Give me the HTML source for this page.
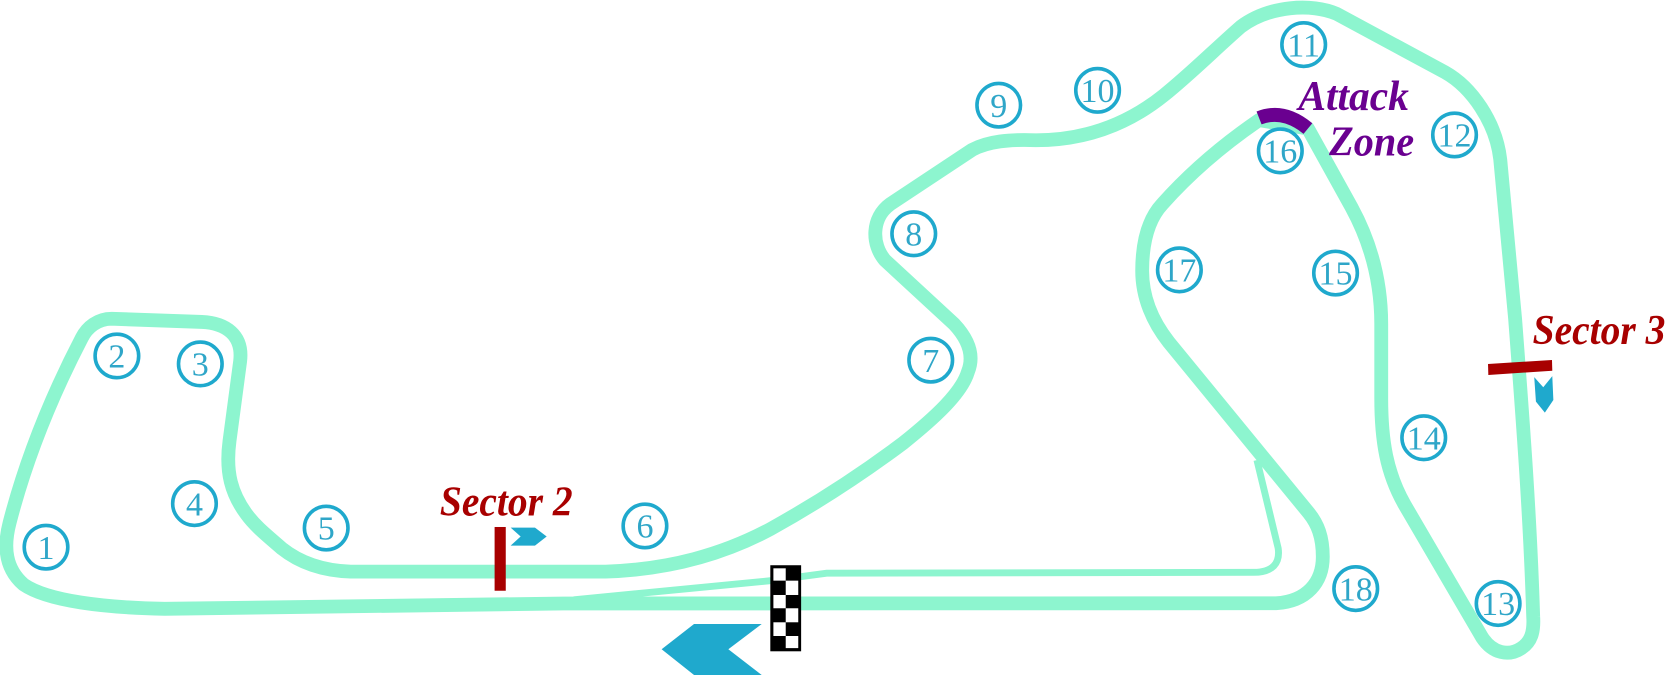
<!DOCTYPE html>
<html>
<head>
<meta charset="utf-8">
<style>
html,body{margin:0;padding:0;background:#fff;}
svg{display:block;}
.n{font-family:"Liberation Serif",serif;font-size:32px;fill:#2fa6c8;text-anchor:middle;}
.c{fill:#fff;stroke:#1fa9cd;stroke-width:3.4;}
.t{font-family:"Liberation Serif",serif;font-size:40px;font-weight:bold;font-style:italic;}
</style>
</head>
<body>
<svg width="1666" height="676" viewBox="0 0 1568 636.25" xmlns="http://www.w3.org/2000/svg">
<rect x="0" y="0" width="1568" height="637" fill="#fff"/>
<path d="M540,564.5 L725,546.6 L778,539.5 L1180,538.7 C1198,538.5 1205,530 1203,516 L1183,433" fill="none" stroke="#8df5cf" stroke-width="6.5"/>
<path d="M155,573 L530,568 L1201,567.8 C1230,566 1245,548 1245,524 C1245,505 1240,493 1232,483 L1100,322 C1085,303 1075,280 1075,255 C1075,230 1080,207 1094,192 C1118,165 1150,137 1185,113 L1231,121 L1272,195 C1290,228 1300,265 1300,305 L1300,375 C1300,415 1305,445 1322,475 L1395,600 C1405,615 1420,618 1432,610 C1441,604 1444,595 1443,580 C1440,480 1432,380 1426,300 L1412,150 C1408,115 1385,82 1360,68 L1258,13 C1235,3 1195,5 1168,25 C1145,45 1120,70 1095,90 C1060,118 1020,132 975,132 C950,131 930,133 915,141 L838,192 C820,205 820,230 833,245 L898,305 C912,320 917,335 911,350 C905,370 880,393 850,417 C810,447 770,473 725,498 C680,522 630,536 570,538 L330,538 C300,537 280,528 265,516 C250,503 240,495 232,484 C218,465 212,445 216,415 L226,340 C229,315 212,304 190,303 L105,300 C92,300 82,308 77,318 C50,370 25,430 9,492 C3,515 5,535 22,550 C45,566 100,572 155,573 Z" fill="none" stroke="#8df5cf" stroke-width="13" stroke-linejoin="round"/>
<path d="M1185,111 Q1208,102 1231,121" fill="none" stroke="#6a0090" stroke-width="13"/>
<rect x="465.5" y="496" width="10.5" height="60" fill="#a80000"/>
<polygon points="480.6,496.6 503.5,496.6 514.5,505 503.5,513.6 480.6,513.6 490,505" fill="#1fa9cd"/>
<polygon points="1400.5,342.6 1460.7,338.8 1461,348.9 1400.8,353" fill="#a80000"/>
<polygon points="1444,355 1452.5,364.5 1461,354 1462,376.5 1454,388.4 1445.6,378" fill="#1fa9cd"/>
<polygon points="622.7,611.1 653.2,587.3 716.9,587.3 685.5,611.1 716.9,635.3 653.2,635.3" fill="#1fa9cd"/>
<g>
<rect x="725" y="532" width="29" height="81" fill="#000"/>
<rect x="727.9" y="534.9" width="11.6" height="11.6" fill="#fff"/>
<rect x="739.5" y="546.5" width="11.8" height="13.5" fill="#fff"/>
<rect x="727.9" y="560" width="11.6" height="12.5" fill="#fff"/>
<rect x="739.5" y="572.5" width="11.8" height="13.2" fill="#fff"/>
<rect x="727.9" y="585.7" width="11.6" height="12.9" fill="#fff"/>
<rect x="739.5" y="598.6" width="11.8" height="11.4" fill="#fff"/>
</g>
<g>
<circle class="c" cx="43.3" cy="515" r="20.5"/><text class="n" x="43.3" y="526">1</text>
<circle class="c" cx="110" cy="335" r="20.5"/><text class="n" x="110" y="346">2</text>
<circle class="c" cx="188.5" cy="342.5" r="20.5"/><text class="n" x="188.5" y="353.5">3</text>
<circle class="c" cx="183" cy="474" r="20.5"/><text class="n" x="183" y="485">4</text>
<circle class="c" cx="307" cy="497" r="20.5"/><text class="n" x="307" y="508">5</text>
<circle class="c" cx="607" cy="495" r="20.5"/><text class="n" x="607" y="506">6</text>
<circle class="c" cx="876" cy="339" r="20.5"/><text class="n" x="876" y="350">7</text>
<circle class="c" cx="860" cy="220" r="20.5"/><text class="n" x="860" y="231">8</text>
<circle class="c" cx="940" cy="99" r="20.5"/><text class="n" x="940" y="110">9</text>
<circle class="c" cx="1033" cy="85" r="20.5"/><text class="n" x="1033" y="96">10</text>
<circle class="c" cx="1227" cy="42" r="20.5"/><text class="n" x="1227" y="53">11</text>
<circle class="c" cx="1369" cy="127" r="20.5"/><text class="n" x="1369" y="138">12</text>
<circle class="c" cx="1410" cy="568" r="20.5"/><text class="n" x="1410" y="579">13</text>
<circle class="c" cx="1340" cy="412" r="20.5"/><text class="n" x="1340" y="423">14</text>
<circle class="c" cx="1257" cy="257" r="20.5"/><text class="n" x="1257" y="268">15</text>
<circle class="c" cx="1205" cy="142" r="20.5"/><text class="n" x="1205" y="153">16</text>
<circle class="c" cx="1110" cy="254" r="20.5"/><text class="n" x="1110" y="265">17</text>
<circle class="c" cx="1276" cy="554" r="20.5"/><text class="n" x="1276" y="565">18</text>
</g>
<text class="t" x="414" y="485" fill="#a80000" textLength="125" lengthAdjust="spacingAndGlyphs">Sector 2</text>
<text class="t" x="1442.5" y="324" fill="#a80000" textLength="125" lengthAdjust="spacingAndGlyphs">Sector 3</text>
<text class="t" x="1222" y="103.5" fill="#6a0090" textLength="104" lengthAdjust="spacingAndGlyphs">Attack</text>
<text class="t" x="1251" y="146.5" fill="#6a0090" textLength="80" lengthAdjust="spacingAndGlyphs">Zone</text>
</svg>
</body>
</html>
